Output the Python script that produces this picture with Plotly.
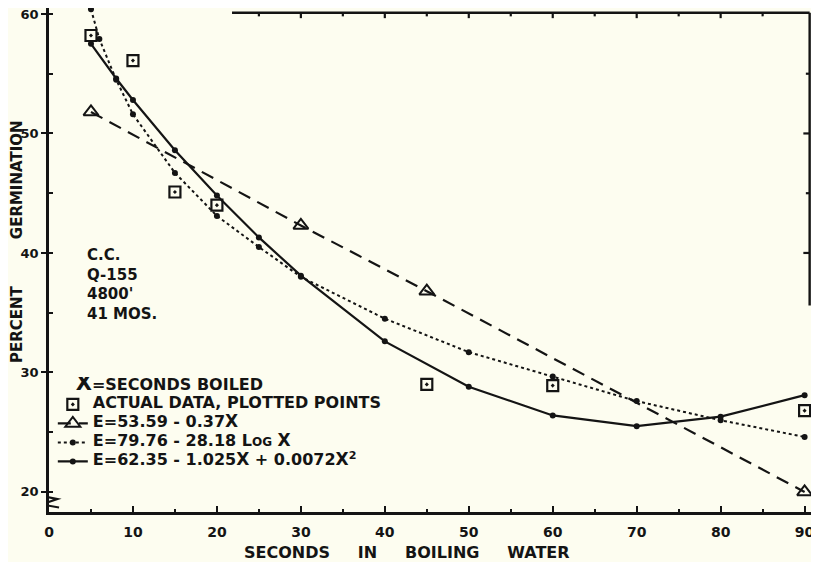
import plotly.graph_objects as go

# ---- data ----
seconds_actual = [5, 10, 15, 20, 45, 60, 90]
actual_pct = [58.2, 56.1, 45.1, 44.0, 29.0, 28.9, 26.8]

seconds_linear = [5, 30, 45, 90]
linear_pct = [51.8, 42.3, 36.8, 20.0]

seconds_log = [5, 6, 8, 10, 15, 20, 25, 30, 40, 50, 60, 70, 80, 90]
log_pct = [60.4, 57.9, 54.5, 51.6, 46.7, 43.1, 40.5, 38.0, 34.5, 31.7, 29.65, 27.6, 26.0, 24.6]

seconds_quad = [5, 8, 10, 15, 20, 25, 30, 40, 50, 60, 70, 80, 90]
quad_pct = [57.5, 54.6, 52.8, 48.6, 44.8, 41.3, 38.1, 32.6, 28.8, 26.4, 25.5, 26.3, 28.1]

x_ticks = [0, 10, 20, 30, 40, 50, 60, 70, 80, 90]
y_ticks = [20, 30, 40, 50, 60]

BG = "#fdfdf0"
INK = "#141414"
FONT = "DejaVu Sans"
BIGX = "<span style='font-size:17px'>X</span>"


def big(t):
    return "<span style='font-size:16px'>" + t + "</span>"


fig = go.Figure()

fig.add_trace(go.Scatter(
    x=seconds_linear, y=linear_pct, mode="lines+markers",
    name=big("E=53.59 - 0.37" + BIGX), legendrank=2,
    line=dict(color=INK, width=2.2, dash="13px,8px"),
    marker=dict(symbol="triangle-up-open", size=13, color=INK, line=dict(width=2, color=INK)),
    cliponaxis=False,
))
fig.add_trace(go.Scatter(
    x=seconds_log, y=log_pct, mode="lines+markers",
    name=big("E=79.76 - 28.18 L<span style='font-size:12px'>OG</span> " + BIGX), legendrank=3,
    line=dict(color=INK, width=2, dash="dot"),
    marker=dict(symbol="circle", size=6, color=INK),
    cliponaxis=False,
))
fig.add_trace(go.Scatter(
    x=seconds_quad, y=quad_pct, mode="lines+markers",
    name=big("E=62.35 - 1.025" + BIGX + " + 0.0072" + BIGX + "<sup>2</sup>"), legendrank=4,
    line=dict(color=INK, width=2.2),
    marker=dict(symbol="circle", size=6, color=INK),
    cliponaxis=False,
))
fig.add_trace(go.Scatter(
    x=seconds_actual, y=actual_pct, mode="markers",
    name=big("ACTUAL DATA, PLOTTED POINTS"), legendrank=1,
    marker=dict(symbol="square-open-dot", size=11, color=INK, line=dict(width=2.2, color=INK)),
    cliponaxis=False,
))

# ---- hand-drawn frame pieces (top and right borders with ticks, axis break) ----
shapes = []
shapes.append(dict(type="line", xref="x", yref="y", x0=21.8, x1=90.6, y0=60.1, y1=60.1,
                   line=dict(color=INK, width=2.4)))
shapes.append(dict(type="line", xref="x", yref="y", x0=90.6, x1=90.6, y0=60.1, y1=35.6,
                   line=dict(color=INK, width=2.4)))
for t in range(25, 90, 5):
    ln = 0.45 if t % 10 == 0 else 0.3
    shapes.append(dict(type="line", xref="x", yref="y", x0=t, x1=t, y0=60.1, y1=60.1 - ln,
                       line=dict(color=INK, width=2.2)))
for t in (40, 45, 50, 55):
    ln = 0.75 if t % 10 == 0 else 0.45
    shapes.append(dict(type="line", xref="x", yref="y", x0=90.6, x1=90.6 - ln, y0=t, y1=t,
                       line=dict(color=INK, width=2.2)))
shapes.append(dict(type="path", xref="x", yref="y",
                   path="M -1.1,19.7 L 1.0,19.4 L -0.9,18.95 L 1.2,18.7",
                   line=dict(color=INK, width=2.2)))

# The page is rendered with an 8px body margin; figure size compensates for it.
fig.update_layout(
    width=811, height=554, autosize=False,
    margin=dict(l=41, r=6, t=0, b=50),
    paper_bgcolor=BG, plot_bgcolor=BG,
    font=dict(family=FONT, color=INK),
    shapes=shapes,
    showlegend=True,
    legend=dict(
        x=0.005, y=0.268, xanchor="left", yanchor="top",
        bgcolor="rgba(0,0,0,0)", borderwidth=0,
        font=dict(family=FONT, size=10, color=INK, weight="bold"),
        title=dict(text="\u00a0" * 6 + "<span style='font-size:21px'>X</span>"
                        "<span style='font-size:16px'>=SECONDS BOILED</span>",
                   font=dict(family=FONT, size=10, color=INK, weight="bold"), side="top"),
        itemwidth=30, tracegroupgap=0,
    ),
    xaxis=dict(
        range=[0, 91], showgrid=False, zeroline=False,
        showline=True, linecolor=INK, linewidth=2.6,
        tickmode="array", tickvals=x_ticks, ticktext=[str(v) for v in x_ticks],
        ticks="inside", ticklen=6, tickwidth=2, tickcolor=INK,
        minor=dict(dtick=5, ticks="inside", ticklen=3, tickwidth=2, tickcolor=INK),
        tickfont=dict(family=FONT, size=14, color=INK, weight="bold"),
        ticklabelstandoff=5, ticklabeloverflow="allow",
    ),
    yaxis=dict(
        range=[18.32, 60.5], showgrid=False, zeroline=False,
        showline=True, linecolor=INK, linewidth=2.6,
        tickmode="array", tickvals=y_ticks, ticktext=[str(v) for v in y_ticks],
        ticks="outside", ticklen=5, tickwidth=2, tickcolor=INK,
        minor=dict(dtick=5, ticks="inside", ticklen=4, tickwidth=2, tickcolor=INK),
        tickfont=dict(family=FONT, size=13, color=INK, weight="bold"),
        ticklabelstandoff=0, ticklabeloverflow="allow",
    ),
    annotations=[
        dict(text="SECONDS" + "\u00a0" * 5 + "IN" + "\u00a0" * 5 + "BOILING" + "\u00a0" * 5 + "WATER",
             xref="paper", yref="paper", x=(407 - 49) / 764, y=(512 - 552) / 504,
             xanchor="center", yanchor="middle", showarrow=False,
             font=dict(family=FONT, size=16, color=INK, weight="bold")),
        dict(text="PERCENT" + "\u00a0" * 9 + "GERMINATION",
             xref="paper", yref="paper", x=(17 - 49) / 764, y=(512 - 242) / 504,
             xanchor="center", yanchor="middle", textangle=-90, showarrow=False,
             font=dict(family=FONT, size=15, color=INK, weight="bold")),
        dict(text="C.C.<br>Q-155<br>4800'<br>41 MOS.",
             xref="paper", yref="paper", x=(85 - 49) / 764, y=(512 - 284) / 504,
             xanchor="left", yanchor="middle", align="left", showarrow=False,
             font=dict(family=FONT, size=15, color=INK, weight="bold")),
    ],
)

fig.write_html("out.html")
